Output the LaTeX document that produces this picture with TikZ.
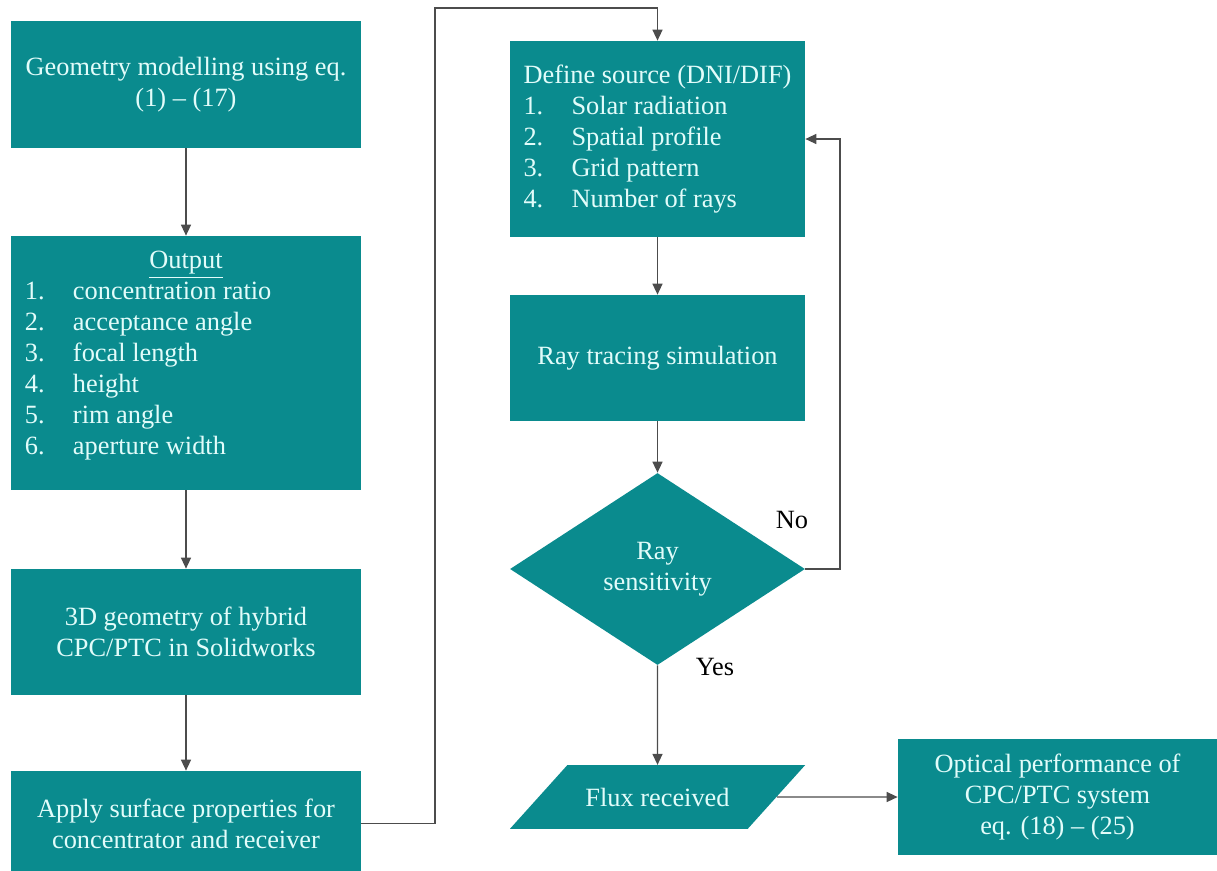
\documentclass[tikz,border=0pt]{standalone}
\usepackage{fontspec}
\setmainfont{Liberation Serif}
\usepackage{array}
\usetikzlibrary{shapes.geometric, arrows.meta}
\definecolor{boxteal}{RGB}{10,139,142}
\definecolor{boxtext}{RGB}{226,252,250}

\begin{document}
\begin{tikzpicture}[block/.style={rectangle, fill=boxteal, text=boxtext, minimum width=7cm, align=center, inner sep=0pt},
  decision/.style={diamond, fill=boxteal, text=boxtext, minimum width=5.9cm, minimum height=3.84cm, align=center, inner sep=0pt},
  io/.style={trapezium, trapezium left angle=48, trapezium right angle=132, trapezium stretches body, fill=boxteal, text=boxtext, minimum width=5.9cm, inner xsep=0pt, inner ysep=0.45cm},
  flow/.style={draw=black!70, line width=0.8pt, -{Triangle[length=0.22cm,width=0.2cm]}},
  font=\fontsize{15}{17.6}\selectfont]
\useasboundingbox (0,0) rectangle (24.34,-17.4);
%% left column
\node (geom) at (3.72,-1.69) [block, minimum height=2.54cm] {Geometry modelling using eq.\\(1) -- (17)};
\node (output) at (3.72,-7.26) [block, minimum height=5.08cm] {\begin{tabular}{@{}p{0.96cm}@{}p{5.48cm}@{}}
\multicolumn{2}{@{}c@{}}{\underline{Output}}\\
1. & concentration ratio\\
2. & acceptance angle\\
3. & focal length\\
4. & height\\
5. & rim angle\\
6. & aperture width\\[0.3cm]
\end{tabular}};
\node (model3d) at (3.72,-12.64) [block, minimum height=2.52cm] {3D geometry of hybrid\\CPC/PTC in Solidworks};
\node (surface) at (3.72,-16.47) [block, minimum height=2.1cm] {Apply surface properties for\\concentrator and receiver};
%% right column
\node (source) at (13.15,-2.78) [block, minimum width=5.9cm, minimum height=3.92cm] {\begin{tabular}{@{}p{0.96cm}@{}l@{}}
\multicolumn{2}{@{}l@{}}{Define source (DNI/DIF)}\\
1. & Solar radiation\\
2. & Spatial profile\\
3. & Grid pattern\\
4. & Number of rays
\end{tabular}};
\node (raytrace) at (13.15,-7.16) [block, minimum width=5.9cm, minimum height=2.52cm] {Ray tracing simulation};
\node (sens) at (13.15,-11.38) [decision] {Ray\\sensitivity};
\node (flux) at (13.15,-15.94) [io] {Flux received};
\node (optical) at (21.15,-15.94) [block, minimum width=6.38cm, minimum height=2.32cm] {Optical performance of\\CPC/PTC system\\eq. (18) -- (25)};
\node (no) at (15.84,-10.4) {No};
\node (yes) at (14.3,-13.34) {Yes};
\coordinate (top) at (8.7,-0.16);
\coordinate (loop) at (16.8,-2.78);
%% connectors
\draw [flow] (geom) -- (output);
\draw [flow] (output) -- (model3d);
\draw [flow] (model3d) -- (surface);
\draw [flow] (surface.east) -| (top) -| (source.north);
\draw [flow] (source) -- (raytrace);
\draw [flow] (raytrace) -- (sens);
\draw [flow] (sens) -- (flux);
\draw [flow] (sens.east) -| (loop) -- (source.east);
\draw [flow] (flux.east) -- (optical.west);
\end{tikzpicture}
\end{document}
